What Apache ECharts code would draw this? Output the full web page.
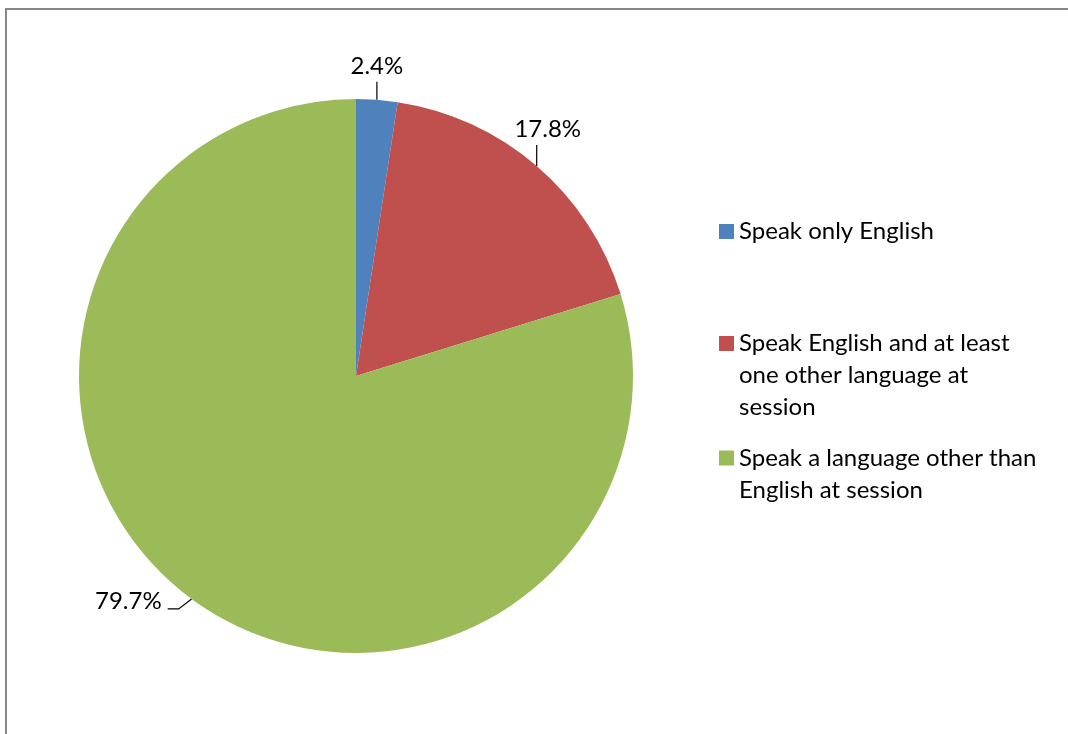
<!DOCTYPE html>
<html>
<head>
<meta charset="utf-8">
<style>
  html, body { margin: 0; padding: 0; background: #fff; }
  #chart { width: 1068px; height: 734px; }
</style>
<script src="https://cdn.jsdelivr.net/npm/echarts@6/dist/echarts.min.js"></script>
</head>
<body>
<div id="chart"></div>
<script>
// Language spoken at session — share of participants (%)
const categories = [
  'Speak only English',
  'Speak English and at least one other language at session',
  'Speak a language other than English at session'
];
const legendText = [
  'Speak only English',
  'Speak English and at least\none other language at\nsession',
  'Speak a language other than\nEnglish at session'
];
const values = [2.4, 17.8, 79.7];
const colors = ['#4F81BD', '#C0504D', '#9BBB59'];

const FONT = 'Lato, "Open Sans", sans-serif';
const FONT_SIZE = 24;
const CENTER = [356, 376];
const RADIUS = 277;

const chart = echarts.init(document.getElementById('chart'), null, { renderer: 'canvas' });

// anchor on the outer arc at a slice's mid-angle (clockwise from 12 o'clock)
function arcPoint(idx) {
  const total = values.reduce((a, b) => a + b, 0);
  let before = 0;
  for (let i = 0; i < idx; i++) before += values[i];
  const mid = (before + values[idx] / 2) / total * Math.PI * 2;
  return [CENTER[0] + RADIUS * Math.sin(mid), CENTER[1] - RADIUS * Math.cos(mid)];
}

// One legend block per entry so the gaps can differ. The legend centres the
// text block on the icon, so blank lines go in front of the text to keep
// the icon level with the first line.
const LH = 32;
function legendBlock(i, top) {
  const lines = legendText[i].split('\n');
  const pad = new Array(lines.length - 1).fill(' ');
  const shown = pad.concat(lines).join('\n');
  return {
    orient: 'vertical',
    left: 719,
    top: top,
    padding: 0,
    itemWidth: 15,
    itemHeight: 15,
    itemGap: 0,
    icon: 'rect',
    selectedMode: false,
    data: [categories[i]],
    formatter: () => shown,
    textStyle: {
      fontFamily: FONT,
      fontSize: FONT_SIZE,
      color: '#000',
      lineHeight: LH
    }
  };
}

chart.setOption({
  animation: false,
  backgroundColor: '#fff',
  color: colors,
  graphic: [{
    type: 'rect',
    shape: { x: 6, y: 9, width: 1070, height: 740 },
    style: { fill: 'none', stroke: '#868686', lineWidth: 2 },
    silent: true,
    z: -1
  }],
  legend: [
    legendBlock(0, 215.5),
    legendBlock(1, 263.5),
    legendBlock(2, 410)
  ],
  series: [{
    type: 'pie',
    center: CENTER,
    radius: RADIUS,
    startAngle: 90,
    clockwise: true,
    avoidLabelOverlap: false,
    itemStyle: { borderWidth: 0 },
    emphasis: { disabled: true },
    label: {
      show: true,
      position: 'outside',
      formatter: p => p.value + '%',
      fontFamily: FONT,
      fontSize: FONT_SIZE,
      color: '#000'
    },
    labelLine: {
      show: true,
      length: 18,
      length2: 0,
      smooth: false,
      lineStyle: { color: '#000', width: 1.2 }
    },
    labelLayout: function (params) {
      const i = params.dataIndex;
      const p = arcPoint(i);
      if (i === 2) {
        return {
          x: p[0] - 30,
          y: p[1] + 2,
          align: 'right',
          verticalAlign: 'middle',
          labelLinePoints: [p, [p[0] - 13, p[1] + 10], [p[0] - 24, p[1] + 10]]
        };
      }
      const len = i === 0 ? 18 : 21;
      const top = [p[0], p[1] - len];
      return {
        x: p[0] + (i === 0 ? 0 : 11),
        y: p[1] - len - 16,
        align: 'center',
        verticalAlign: 'middle',
        labelLinePoints: [p, top, top]
      };
    },
    data: categories.map((name, i) => ({ name: name, value: values[i] }))
  }]
});
</script>
</body>
</html>
